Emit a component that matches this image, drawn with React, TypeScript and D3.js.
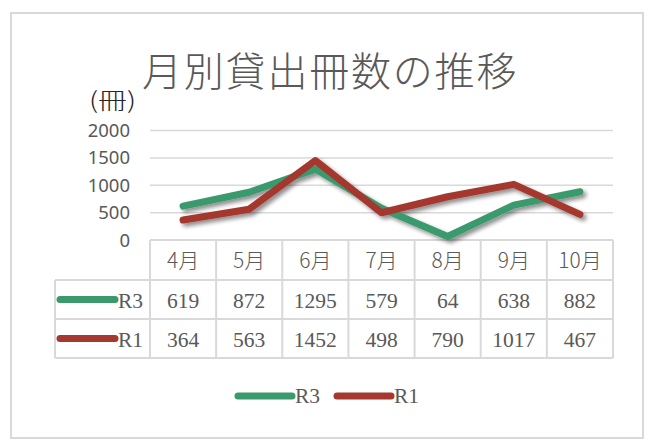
import React from "react";
import * as d3 from "d3";

const months = ["4月", "5月", "6月", "7月", "8月", "9月", "10月"];
const seriesNames = ["R3", "R1"];
const r3Values = [619, 872, 1295, 579, 64, 638, 882];
const r1Values = [364, 563, 1452, 498, 790, 1017, 467];
const yTicks = [0, 500, 1000, 1500, 2000];
const colors = ["#3a9a6d", "#a5392f"];
const title = "月別貸出冊数の推移";
const unitLabel = "(冊)";

const W = 653;
const H = 440;

export default function App() {
  const series = [
    { name: seriesNames[0], values: r3Values, color: colors[0] },
    { name: seriesNames[1], values: r1Values, color: colors[1] },
  ];
  const x = d3.scaleBand<string>().domain(months).range([150, 613]).padding(0);
  const y = d3.scaleLinear().domain([0, 2000]).range([240, 130.5]);
  const line = d3
    .line<number>()
    .x((_, i) => (x(months[i]) as number) + x.bandwidth() / 2)
    .y((d) => y(d));

  const rowTop = [240, 280, 319, 358];
  const gray = "#595959";
  const gridColor = "#d9d9d9";
  const tableColor = "#d9d9d9";

  return (
    <svg
      width={W}
      height={H}
      style={{ position: "absolute", left: 0, top: 0, background: "#fff" }}
    >
      <defs>
        <filter id="shadow" x="-20%" y="-20%" width="140%" height="160%">
          <feGaussianBlur in="SourceAlpha" stdDeviation="2.2" />
          <feOffset dx="2.5" dy="3" result="ob" />
          <feComponentTransfer>
            <feFuncA type="linear" slope="0.45" />
          </feComponentTransfer>
          <feMerge>
            <feMergeNode />
            <feMergeNode in="SourceGraphic" />
          </feMerge>
        </filter>
      </defs>
      <rect x={0} y={0} width={W} height={H} fill="#fff" />
      <rect x={11} y={13} width={632} height={425} fill="#fff" stroke="#d9d9d9" strokeWidth={2} />

      <text
        x={142}
        y={86}
        fontFamily="'Noto Sans CJK JP'"
        fontWeight={300}
        fontSize={40}
        letterSpacing={1.8}
        fill={gray}
      >
        {title}
      </text>
      <text
        x={89}
        y={109}
        fontFamily="'Noto Sans CJK JP'"
        fontWeight={300}
        fontSize={23}
        textLength={47}
        lengthAdjust="spacingAndGlyphs"
        fill="#262626"
      >
        {unitLabel}
      </text>

      {yTicks.map((t) => (
        <g key={t}>
          {t > 0 && (
            <line x1={150} x2={613} y1={y(t)} y2={y(t)} stroke={gridColor} strokeWidth={1.5} />
          )}
          <text
            x={130}
            y={y(t) + 6.5}
            textAnchor="end"
            fontFamily="'Noto Sans'"
            fontSize={18.5}
            fill={gray}
          >
            {t}
          </text>
        </g>
      ))}

      {/* table grid */}
      <g stroke={tableColor} strokeWidth={2} fill="none">
        <line x1={150} x2={613} y1={rowTop[0]} y2={rowTop[0]} />
        {rowTop.slice(1).map((ry) => (
          <line key={ry} x1={55} x2={613} y1={ry} y2={ry} />
        ))}
        <line x1={55} x2={55} y1={rowTop[1]} y2={rowTop[3]} />
        {months.map((m) => (
          <line key={m} x1={x(m) as number} x2={x(m) as number} y1={rowTop[0]} y2={rowTop[3]} />
        ))}
        <line x1={613} x2={613} y1={rowTop[0]} y2={rowTop[3]} />
      </g>

      {months.map((m) => (
        <text
          key={m}
          x={(x(m) as number) + x.bandwidth() / 2}
          y={rowTop[0] + 28}
          textAnchor="middle"
          fontFamily="'Noto Sans CJK JP'"
          fontWeight={300}
          fontSize={21}
          fill={gray}
        >
          {m}
        </text>
      ))}

      {series.map((s, si) => (
        <g key={s.name}>
          <line
            x1={60}
            x2={115}
            y1={(rowTop[si + 1] + rowTop[si + 2]) / 2}
            y2={(rowTop[si + 1] + rowTop[si + 2]) / 2}
            stroke={s.color}
            strokeWidth={7}
            strokeLinecap="round"
          />
          <text
            x={118}
            y={(rowTop[si + 1] + rowTop[si + 2]) / 2 + 8}
            fontFamily="'Liberation Serif'"
            fontSize={21.5}
            fill={gray}
          >
            {s.name}
          </text>
          {s.values.map((v, i) => (
            <text
              key={i}
              x={(x(months[i]) as number) + x.bandwidth() / 2}
              y={(rowTop[si + 1] + rowTop[si + 2]) / 2 + 8}
              textAnchor="middle"
              fontFamily="'Liberation Serif'"
              fontSize={21.5}
              fill={gray}
            >
              {v}
            </text>
          ))}
        </g>
      ))}

      <g filter="url(#shadow)">
        {series.map((s) => (
          <path
            key={s.name}
            d={line(s.values) as string}
            fill="none"
            stroke={s.color}
            strokeWidth={7}
            strokeLinejoin="round"
            strokeLinecap="round"
          />
        ))}
      </g>

      {/* bottom legend */}
      {series.map((s, si) => {
        const lx = 238 + si * 99;
        return (
          <g key={s.name}>
            <line
              x1={lx}
              x2={lx + 54}
              y1={396}
              y2={396}
              stroke={s.color}
              strokeWidth={7}
              strokeLinecap="round"
            />
            <text x={lx + 57} y={403} fontFamily="'Liberation Serif'" fontSize={21.5} fill={gray}>
              {s.name}
            </text>
          </g>
        );
      })}
    </svg>
  );
}
